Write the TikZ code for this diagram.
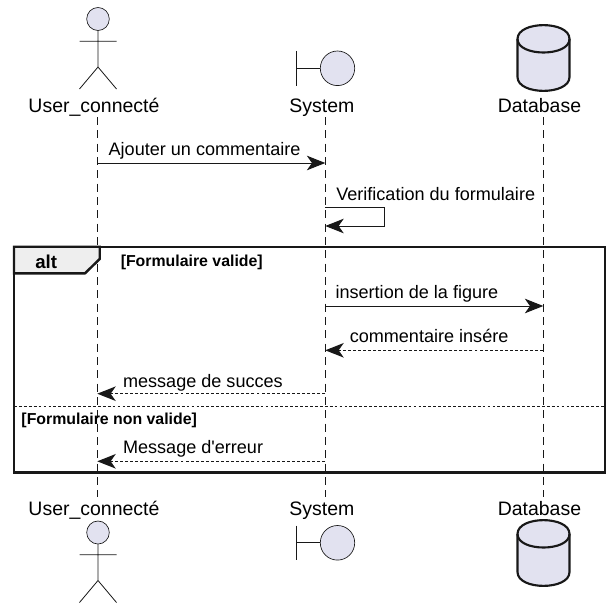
\documentclass[tikz,border=0pt]{standalone}
\usepackage{fontspec}
\setmainfont{Liberation Sans}
\usetikzlibrary{arrows.meta}
\definecolor{pfill}{HTML}{E2E2F0}
\definecolor{pline}{HTML}{181818}
\definecolor{tabfill}{HTML}{EEEEEE}
\tikzset{
  partlabel/.style={anchor=base west,inner sep=0pt,font=\fontsize{14.6pt}{16pt}\selectfont,text=black},
  msglabel/.style={anchor=base west,inner sep=0pt,font=\fontsize{13.55pt}{15pt}\selectfont,text=black},
  guardlabel/.style={anchor=base west,inner sep=0pt,font=\fontsize{11.9pt}{13pt}\bfseries\selectfont,text=black},
  altlabel/.style={anchor=base west,inner sep=0pt,font=\fontsize{14pt}{15pt}\bfseries\selectfont,text=black},
  lifeline/.style={draw=pline,line width=0.4pt,dash pattern=on 6pt off 4pt},
  sym/.style={draw=pline,line width=0.5pt,fill=pfill},
  symline/.style={draw=pline,line width=0.6pt},
  dbsym/.style={draw=pline,line width=1.6pt,fill=pfill},
  frameline/.style={draw=pline,line width=1.8pt},
  sepline/.style={draw=pline,line width=1.2pt,dash pattern=on 2.1pt off 1.6pt},
  msg/.style={draw=pline,line width=0.75pt,-{Stealth[length=13.8pt,width=10.9pt,inset=3.8pt,fill=pline]}},
  ret/.style={draw=pline,line width=0.85pt,dash pattern=on 2.2pt off 1.6pt,-{Stealth[length=13.8pt,width=10.9pt,inset=3.8pt,fill=pline]}},
}
\newcommand{\actorfig}[2]{%
  \draw[sym] (#1,#2) ellipse [x radius=11.3,y radius=11.5];
  \draw[symline] (#1,#2+11.5) -- (#1,#2+48)
    (#1-18.5,#2+22.3) -- (#1+18.5,#2+22.3)
    (#1-18.5,#2+70) -- (#1,#2+48) -- (#1+18.5,#2+70);
}
\newcommand{\boundaryfig}[2]{%
  \draw[symline] (#1,#2) -- (#1,#2+34.5) (#1,#2+17.3) -- (#1+24,#2+17.3);
  \draw[sym] (#1+41.5,#2+17.3) ellipse [x radius=17.2,y radius=17.3];
}
\newcommand{\dbfig}[2]{%
  \draw[dbsym] (#1-26,#2+14) .. controls (#1-26,#2-4.5) and (#1+26,#2-4.5) .. (#1+26,#2+14)
    -- (#1+26,#2+52) .. controls (#1+26,#2+70.5) and (#1-26,#2+70.5) .. (#1-26,#2+52) -- cycle;
  \draw[draw=pline,line width=1.6pt] (#1-26,#2+14) .. controls (#1-26,#2+32) and (#1+26,#2+32) .. (#1+26,#2+14);
}
\begin{document}
\begin{tikzpicture}[x=0.75pt,y=-0.75pt]
\useasboundingbox (0,0) rectangle (613,610);
\fill[white] (0,0) rectangle (613,610);

% lifeline ends
\coordinate (u1) at (97.3,117);
\coordinate (u2) at (97.3,497);
\coordinate (s1) at (325.3,117);
\coordinate (s2) at (325.3,497);
\coordinate (d1) at (543.3,117);
\coordinate (d2) at (543.3,497);
\draw[lifeline] (u1) -- (u2);
\draw[lifeline] (s1) -- (s2);
\draw[lifeline] (d1) -- (d2);

% participants top
\actorfig{98}{19}
\boundaryfig{296}{51}
\dbfig{543.5}{25}
\node[partlabel] (ut) at (28.2,112) {User\_connecté};
\node[partlabel] (st) at (289.2,112) {System};
\node[partlabel] (dt) at (497.5,112) {Database};

% participants bottom
\actorfig{98}{532.5}
\boundaryfig{296}{525.5}
\dbfig{543.5}{520}
\node[partlabel] (ub) at (28.2,515.3) {User\_connecté};
\node[partlabel] (sb) at (289.2,515.3) {System};
\node[partlabel] (db) at (497.5,515.3) {Database};

% first messages
\coordinate (m1a) at (u1 |- 0,163);
\coordinate (m1b) at (s1 |- 0,163);
\draw[msg] (m1a) -- (m1b);
\node[msglabel] (l1) at (108.4,155.6) {Ajouter un commentaire};
\coordinate (m2a) at (s1 |- 0,207);
\coordinate (m2b) at (s1 |- 0,226);
\draw[msg] (m2a) -- (384.5,207) -- (384.5,226) -- (m2b);
\node[msglabel] (l2) at (336,200.6) {Verification du formulaire};

% frame
\draw[frameline] (14,246.7) rectangle (605,472.3);
\draw[frameline,fill=tabfill] (14,246.7) -- (99.7,246.7) -- (99.7,259) -- (85,273.3) -- (14,273.3) -- cycle;
\node[altlabel] (alt) at (35,268) {alt};
\node[guardlabel] (g1) at (120.5,266.3) {[Formulaire valide]};
\draw[sepline] (14,406.3) -- (605,406.3);
\node[guardlabel] (g2) at (21.2,424.3) {[Formulaire non valide]};

% messages in frame
\coordinate (m3a) at (s1 |- 0,306);
\coordinate (m3b) at (d1 |- 0,306);
\draw[msg] (m3a) -- (m3b);
\node[msglabel] (l3) at (335.3,298.8) {insertion de la figure};
\coordinate (m4a) at (d1 |- 0,350.3);
\coordinate (m4b) at (s1 |- 0,350.3);
\draw[ret] (m4a) -- (m4b);
\node[msglabel] (l4) at (349.5,342.8) {commentaire insére};
\coordinate (m5a) at (s1 |- 0,393.7);
\coordinate (m5b) at (u1 |- 0,393.7);
\draw[ret] (m5a) -- (m5b);
\node[msglabel] (l5) at (122.8,387.2) {message de succes};
\coordinate (m6a) at (s1 |- 0,461.3);
\coordinate (m6b) at (u1 |- 0,461.3);
\draw[ret] (m6a) -- (m6b);
\node[msglabel] (l6) at (122.8,453.5) {Message d\textquotesingle erreur};
\end{tikzpicture}
\end{document}
